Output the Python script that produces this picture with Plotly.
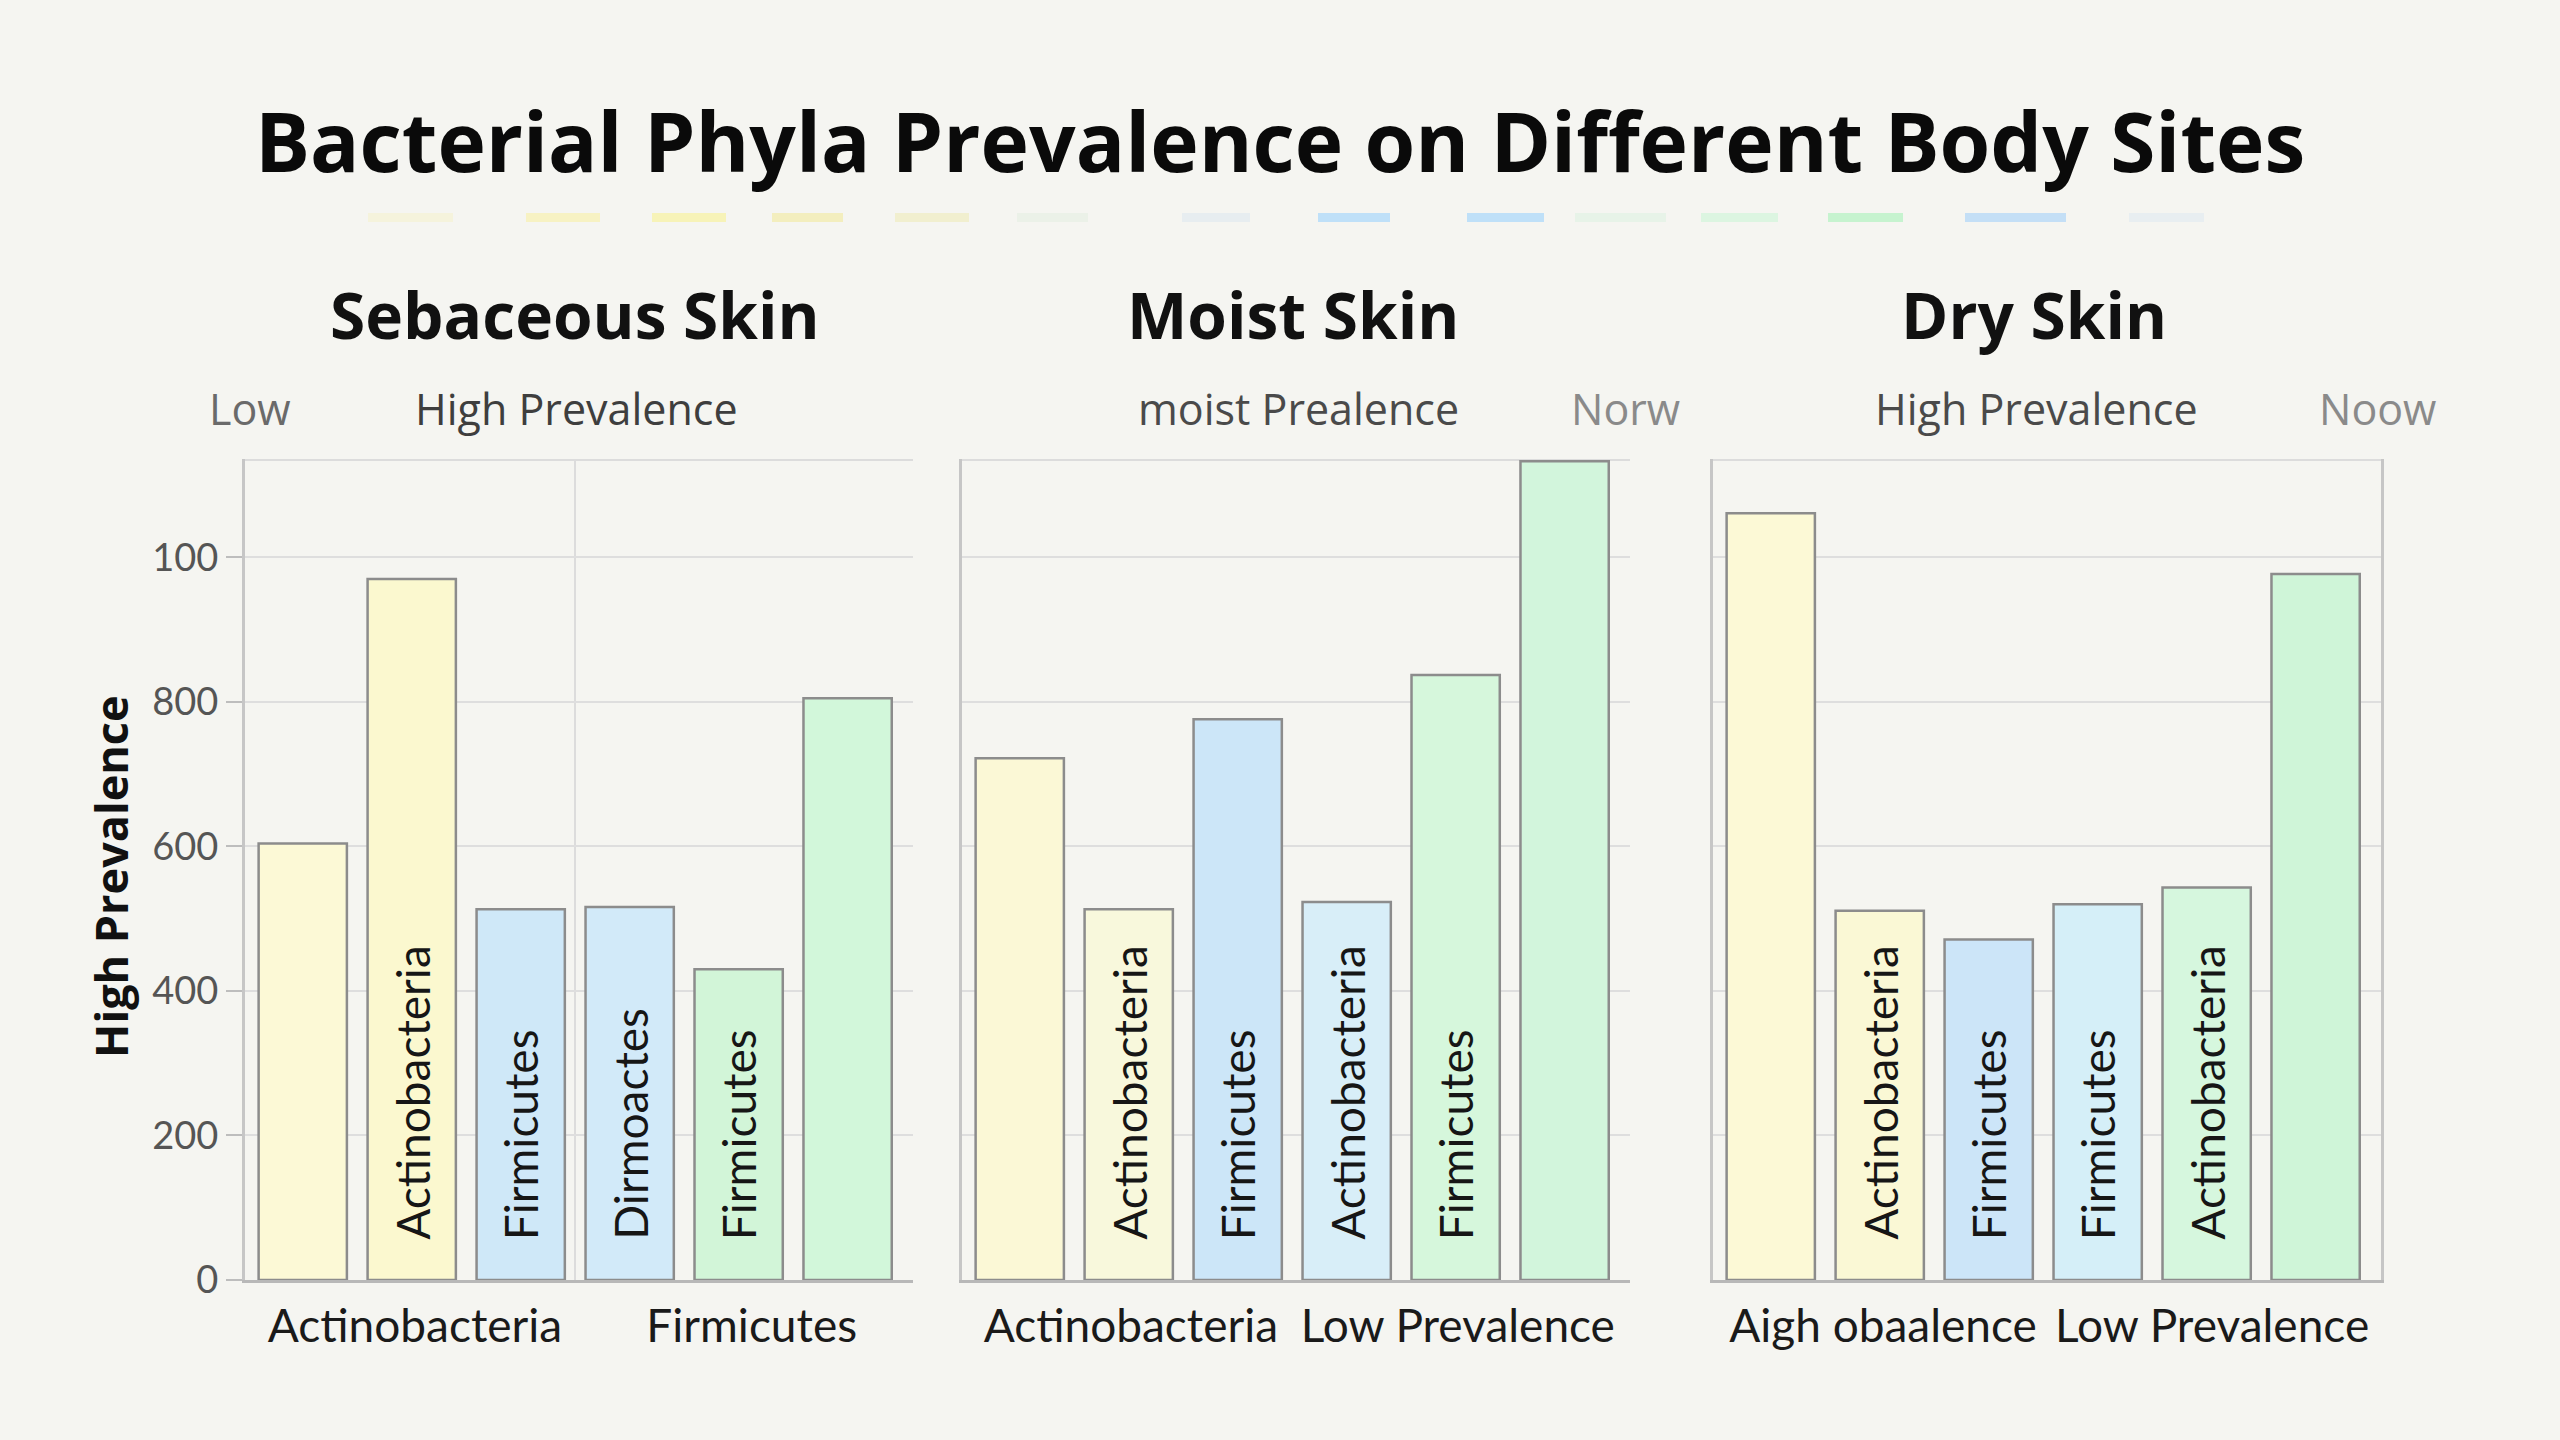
import plotly.graph_objects as go

# ---------------- data ----------------
sites = ["Sebaceous Skin", "Moist Skin", "Dry Skin"]
bar_index = [0, 1, 2, 3, 4, 5]

sebaceous_values = [604, 970, 513, 516, 430, 805]
moist_values = [722, 513, 776, 523, 837, 1133]
dry_values = [1061, 511, 471, 520, 543, 977]

sebaceous_bar_text = ["", "Actinobacteria", "Firmicutes", "Dirmoactes", "Firmicutes", ""]
moist_bar_text = ["", "Actinobacteria", "Firmicutes", "Actinobacteria", "Firmicutes", ""]
dry_bar_text = ["", "Actinobacteria", "Firmicutes", "Firmicutes", "Actinobacteria", ""]

sebaceous_colors = ["#FCF9D6", "#FBF8CF", "#CFE8F8", "#D2EAF9", "#D2F5D8", "#D2F7DA"]
moist_colors = ["#FBF8D6", "#F8F8DC", "#CCE6F8", "#D8EEF8", "#D6F7DC", "#D2F5DC"]
dry_colors = ["#FCF9D6", "#FAF8D5", "#CCE5F8", "#D5EFF8", "#D6F7DE", "#CFF5D8"]

sebaceous_xticks = ["Actinobacteria", "Firmicutes"]
moist_xticks = ["Actinobacteria", "Low Prevalence"]
dry_xticks = ["Aigh obaalence", "Low Prevalence"]

y_tick_values = [0, 200, 400, 600, 800, 1000]
y_tick_text = ["0", "200", "400", "600", "800", "100"]

subtitle_texts = ["Low", "High Prevalence", "moist Prealence", "Norw", "High Prevalence", "Noow"]

title_text = "Bacterial Phyla Prevalence on Different Body Sites"
y_title_text = "High Prevalence"

# ---------------- layout helpers ----------------
W, H = 2560, 1440
FONT = "Lato"
HEAD_FONT = "Open Sans"
BG = "#F5F5F1"


def px(x):
    return x / W


def py(y):
    return 1 - y / H


domains = [(px(245), px(913)), (px(962), px(1630)), (px(1713), px(2381))]
xtick_pos = [[1.03, 4.12], [1.02, 4.02], [1.03, 4.05]]
y_domain = (py(1280), py(459))
Y_MAX = 1134

values = [sebaceous_values, moist_values, dry_values]
texts = [sebaceous_bar_text, moist_bar_text, dry_bar_text]
colors = [sebaceous_colors, moist_colors, dry_colors]
xticks = [sebaceous_xticks, moist_xticks, dry_xticks]

fig = go.Figure()
annotations = []

for i in range(3):
    xa = "x" if i == 0 else f"x{i+1}"
    ya = "y" if i == 0 else f"y{i+1}"
    fig.add_trace(go.Bar(
        x=bar_index, y=values[i], xaxis=xa, yaxis=ya,
        width=0.81,
        marker=dict(color=colors[i], line=dict(color="#8C8C8C", width=2.5)),
        showlegend=False, hoverinfo="skip",
    ))
    for xv, t in zip(bar_index, texts[i]):
        if t:
            annotations.append(dict(
                x=xv, y=0, xref=xa, yref=ya, text=t, showarrow=False,
                textangle=-90, xanchor="center", yanchor="bottom", yshift=38,
                font=dict(family=FONT, size=46, color="#161616"),
            ))

    axis_x = dict(
        domain=list(domains[i]), range=[-0.53, 5.6], anchor=ya,
        automargin=False,
        showline=True, linecolor="#B8B8B8", linewidth=3,
        showgrid=False, zeroline=False, ticks="",
        tickvals=xtick_pos[i], ticktext=xticks[i],
        tickfont=dict(family=FONT, size=46, color="#1A1A1A"),
        ticklabelstandoff=4,
        fixedrange=True,
    )
    if i == 0:
        axis_x["minor"] = dict(tickvals=[2.5], showgrid=True, gridcolor="#DCDCDC", gridwidth=2)
    axis_y = dict(
        domain=list(y_domain), range=[0, Y_MAX + 2], anchor=xa,
        automargin=False,
        showline=True, linecolor="#C6C6C6", linewidth=3,
        mirror=(i == 2),
        showgrid=True, gridcolor="#DEDEDE", gridwidth=2,
        zeroline=False,
        tickvals=y_tick_values, ticktext=y_tick_text,
        showticklabels=(i == 0),
        ticks="outside" if i == 0 else "",
        ticklen=16, tickcolor="#BDBDBD", tickwidth=2,
        tickfont=dict(family=FONT, size=38, color="#555555"),
        minor=dict(tickvals=[Y_MAX], showgrid=True, gridcolor="#DCDCDC", gridwidth=2),
        fixedrange=True,
    )
    fig.layout["xaxis" if i == 0 else f"xaxis{i+1}"] = axis_x
    fig.layout["yaxis" if i == 0 else f"yaxis{i+1}"] = axis_y

# panel titles
panel_title_x = [575, 1293, 2034]
for t, xc in zip(sites, panel_title_x):
    annotations.append(dict(
        x=px(xc), y=py(314), xref="paper", yref="paper", text=f"<b>{t}</b>",
        showarrow=False, xanchor="center", yanchor="middle",
        font=dict(family=HEAD_FONT, size=64, color="#111111"),
    ))

# subtitle row
subtitle_x = [250, 576, 1298, 1625, 2036, 2377]
subtitle_col = ["#6A6A6A", "#3E3E3E", "#4A4A4A", "#8A8A8A", "#4A4A4A", "#8A8A8A"]
for t, xc, c in zip(subtitle_texts, subtitle_x, subtitle_col):
    annotations.append(dict(
        x=px(xc), y=py(408), xref="paper", yref="paper", text=t,
        showarrow=False, xanchor="center", yanchor="middle",
        font=dict(family=HEAD_FONT, size=43, color=c),
    ))

# main title
annotations.append(dict(
    x=0.5, y=py(140), xref="paper", yref="paper", text=f"<b>{title_text}</b>",
    showarrow=False, xanchor="center", yanchor="middle",
    font=dict(family=HEAD_FONT, size=82, color="#0A0A0A"),
))

# y-axis title
annotations.append(dict(
    x=px(111), y=py(877), xref="paper", yref="paper", text=f"<b>{y_title_text}</b>",
    showarrow=False, xanchor="center", yanchor="middle", textangle=-90,
    font=dict(family=HEAD_FONT, size=45, color="#111111"),
))

# decorative dashed colour strip under the title
dash_segments = [
    (368, 453, "#F6F1C8", 0.5), (526, 600, "#F7F2BE", 0.9), (652, 726, "#F7F3B8", 1.0),
    (772, 843, "#F3EDB8", 0.9), (895, 969, "#F0ECC0", 0.7), (1017, 1088, "#E4EEE2", 0.6),
    (1182, 1250, "#DDE8F0", 0.6), (1318, 1390, "#BFE0F8", 1.0), (1467, 1544, "#BFE0F8", 1.0),
    (1575, 1666, "#DDF2E2", 0.6), (1701, 1778, "#D2F5DA", 0.7), (1828, 1903, "#C6F3CF", 1.0),
    (1965, 2066, "#C4DFF6", 1.0), (2129, 2204, "#DCE8F2", 0.5),
]
shapes = []
for x0, x1, c, op in dash_segments:
    shapes.append(dict(
        type="rect", xref="paper", yref="paper",
        x0=px(x0), x1=px(x1), y0=py(222), y1=py(213),
        fillcolor=c, opacity=op, line=dict(width=0), layer="below",
    ))

fig.update_layout(
    width=W, height=H,
    margin=dict(l=0, r=0, t=0, b=0, pad=0, autoexpand=False),
    paper_bgcolor=BG, plot_bgcolor=BG,
    annotations=annotations, shapes=shapes,
    bargap=0.19,
    font=dict(family=FONT),
)

fig.write_html(
    "out.html",
    config={"displayModeBar": False},
    post_script="document.body.style.margin='0';document.body.style.background='" + BG + "';",
)
